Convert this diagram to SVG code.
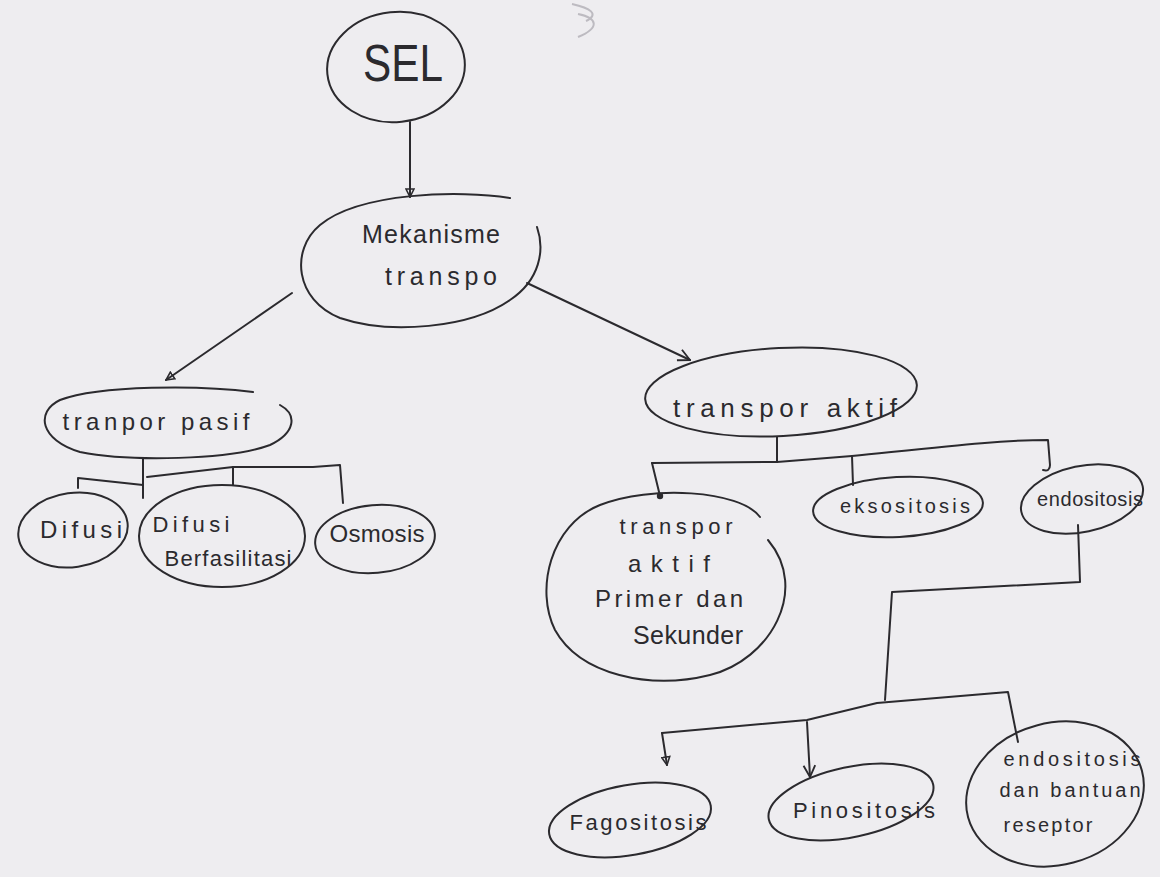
<svg xmlns="http://www.w3.org/2000/svg" width="1160" height="877" viewBox="0 0 1160 877">
<style>
.n{fill:none;stroke:#2b2a2e;stroke-width:2;stroke-linecap:round;stroke-linejoin:round}
.c{fill:none;stroke:#2b2a2e;stroke-width:2;stroke-linecap:round;stroke-linejoin:round}
.t{font-family:"Liberation Sans","DejaVu Sans",sans-serif;fill:#2b2a2e;text-anchor:middle}
</style>
<defs>
<marker id="tri" viewBox="0 0 10 10" refX="9" refY="5" markerWidth="10" markerHeight="10" markerUnits="userSpaceOnUse" orient="auto">
<path d="M1 1 L9 5 L1 9 Z" fill="none" stroke="#2b2a2e" stroke-width="1.6"/>
</marker>
<marker id="vee" viewBox="0 0 12 12" refX="11" refY="6" markerWidth="14" markerHeight="14" markerUnits="userSpaceOnUse" orient="auto">
<path d="M1 1 L11 6 L1 11" fill="none" stroke="#2b2a2e" stroke-width="1.6"/>
</marker>
<marker id="dot" viewBox="0 0 10 10" refX="5" refY="5" markerWidth="8" markerHeight="8" markerUnits="userSpaceOnUse">
<circle cx="5" cy="5" r="4" fill="#2b2a2e"/>
</marker>
</defs>
<rect width="1160" height="877" fill="#eeedf0"/>
<path d="M572 4 C590 8 600 14 586 21 M578 14 C598 18 600 28 578 37" fill="none" stroke="#bdbbc1" stroke-width="2"/>

<g id="connectors">
<path class="c" d="M410 122 L410 197" marker-end="url(#tri)"/>
<path class="c" d="M292 293 L166 380" marker-end="url(#tri)"/>
<path class="c" d="M527 283 L690 360" marker-end="url(#vee)"/>
<path class="c" d="M143 458 L143 498"/>
<path class="c" d="M78 488 L78 478 L143 485"/>
<path class="c" d="M147 477 L233 467 L313 467 L340 465 L343 503"/>
<path class="c" d="M233 467 L233 485"/>
<path class="c" d="M777 437 L777 462"/>
<path class="c" d="M652 463 L660 496" marker-end="url(#dot)"/>
<path class="c" d="M652 463 L777 462 L852 456 C950 446 1000 440 1048 440 L1050 465 Q1050 472 1043 470"/>
<path class="c" d="M852 456 L853 485"/>
<path class="c" d="M1078 525 L1080 582 L892 592 L885 700"/>
<path class="c" d="M662 733 L807 720 L877 703 L1008 692 L1018 742"/>
<path class="c" d="M662 733 L667 765" marker-end="url(#tri)"/>
<path class="c" d="M807 722 L810 777" marker-end="url(#vee)"/>
</g>

<g id="sel">
<ellipse class="n" cx="396" cy="67" rx="69" ry="55" transform="rotate(-6 396 67)"/>
<text class="t" x="403" y="81" font-size="52" textLength="80" lengthAdjust="spacingAndGlyphs">SEL</text>
</g>

<g id="mekanisme">
<path class="n" d="M510 198 C460 190 360 192 320 225 C290 250 295 300 340 318 C390 335 470 328 510 300 C540 280 545 250 537 227"/>
<text class="t" x="431" y="243" font-size="25" textLength="138" lengthAdjust="spacing">Mekanisme</text>
<text class="t" x="441" y="285" font-size="25" textLength="112" lengthAdjust="spacing">transpo</text>
</g>

<g id="transpor-pasif">
<path class="n" d="M253 392 C200 385 100 385 60 400 C35 412 40 440 80 452 C130 462 230 460 270 445 C295 433 298 415 280 405"/>
<text class="t" x="156" y="430" font-size="24" textLength="187" lengthAdjust="spacing">tranpor pasif</text>
</g>

<g id="difusi">
<ellipse class="n" cx="73" cy="530" rx="55" ry="37" transform="rotate(-8 73 530)"/>
<text class="t" x="81" y="538" font-size="24" textLength="82" lengthAdjust="spacing">Difusi</text>
</g>

<g id="difusi-berfasilitasi">
<ellipse class="n" cx="222" cy="536" rx="83" ry="51"/>
<text class="t" x="191" y="532" font-size="22" textLength="77" lengthAdjust="spacing">Difusi</text>
<text class="t" x="228" y="566" font-size="22" textLength="127" lengthAdjust="spacing">Berfasilitasi</text>
</g>

<g id="osmosis">
<ellipse class="n" cx="375" cy="539" rx="60" ry="34" transform="rotate(-5 375 539)"/>
<text class="t" x="377" y="542" font-size="24" textLength="95" lengthAdjust="spacing">Osmosis</text>
</g>

<g id="transpor-aktif">
<ellipse class="n" cx="781" cy="392" rx="136" ry="44" transform="rotate(-3 781 392)"/>
<text class="t" x="785" y="417" font-size="26" textLength="224" lengthAdjust="spacing">transpor aktif</text>
</g>

<g id="primer-sekunder">
<path class="n" d="M760 517 C740 490 650 485 600 505 C550 525 535 590 555 630 C580 675 650 690 710 675 C770 660 810 590 768 540"/>
<text class="t" x="676" y="534" font-size="22" textLength="113" lengthAdjust="spacing">transpor</text>
<text class="t" x="669" y="572" font-size="24" textLength="82" lengthAdjust="spacing">aktif</text>
<text class="t" x="669" y="607" font-size="24" textLength="148" lengthAdjust="spacing">Primer dan</text>
<text class="t" x="688" y="644" font-size="25" textLength="110" lengthAdjust="spacing">Sekunder</text>
</g>

<g id="eksositosis">
<ellipse class="n" cx="898" cy="507" rx="85" ry="30" transform="rotate(-3 898 507)"/>
<text class="t" x="905" y="513" font-size="20" textLength="130" lengthAdjust="spacing">eksositosis</text>
</g>

<g id="endositosis">
<ellipse class="n" cx="1082" cy="499" rx="62" ry="33" transform="rotate(-12 1082 499)"/>
<text class="t" x="1090" y="506" font-size="20" textLength="106" lengthAdjust="spacing">endositosis</text>
</g>

<g id="fagositosis">
<ellipse class="n" cx="630" cy="820" rx="82" ry="35" transform="rotate(-10 630 820)"/>
<text class="t" x="638" y="830" font-size="22" textLength="137" lengthAdjust="spacing">Fagositosis</text>
</g>

<g id="pinositosis">
<ellipse class="n" cx="851" cy="802" rx="84" ry="35" transform="rotate(-12 851 802)"/>
<text class="t" x="864" y="818" font-size="22" textLength="142" lengthAdjust="spacing">Pinositosis</text>
</g>

<g id="endositosis-reseptor">
<ellipse class="n" cx="1055" cy="794" rx="90" ry="71" transform="rotate(-15 1055 794)"/>
<text class="t" x="1072" y="766" font-size="20" textLength="137" lengthAdjust="spacing">endositosis</text>
<text class="t" x="1070" y="797" font-size="20" textLength="141" lengthAdjust="spacing">dan bantuan</text>
<text class="t" x="1048" y="832" font-size="20" textLength="89" lengthAdjust="spacing">reseptor</text>
</g>
</svg>
